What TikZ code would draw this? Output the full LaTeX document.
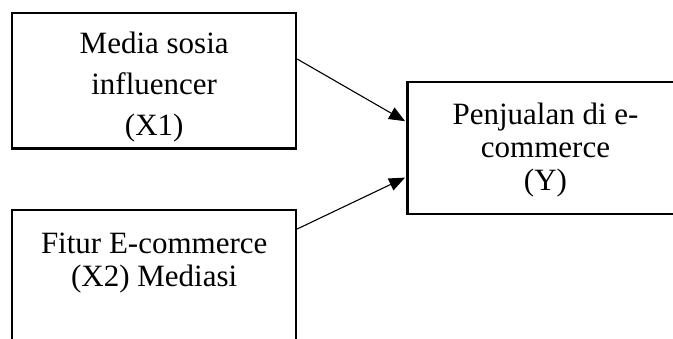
\documentclass[tikz,border=0pt]{standalone}
\usepackage{fontspec}
\setmainfont{Liberation Serif}
\usetikzlibrary{arrows.meta}
\tikzset{
  boxnode/.style={draw=black, line width=2.2pt, inner sep=0pt, align=center},
  conn/.style={draw=black, line width=1.1pt, -{Triangle[length=16pt,width=13pt]}, shorten >=1.5pt}
}
\begin{document}
\begin{tikzpicture}[x=1pt, y=-1pt]
\useasboundingbox (0,0) rectangle (673,338);
\clip (0,0) rectangle (673,338);
\fill[white] (0,0) rectangle (673,338);
\node[boxnode, minimum width=283.7pt, minimum height=135.8pt, text height=122.3pt, text depth=13.5pt,
      font=\fontsize{31}{40.7}\selectfont] (x1) at (154.2,80.6)
  {Media sosia\\influencer\\(X1)};
\node[boxnode, minimum width=283.7pt, minimum height=150pt, text height=76.7pt, text depth=73.3pt,
      font=\fontsize{31}{33.3}\selectfont] (x2) at (154.2,285)
  {Fitur E-commerce\\(X2) Mediasi};
\node[boxnode, minimum width=276pt, minimum height=131.7pt, text height=107.7pt, text depth=24pt,
      font=\fontsize{31}{33}\selectfont] (y) at (545.5,148.15)
  {Penjualan di e-\\commerce\\(Y)};
\draw[conn] ([yshift=21.6pt]x1.east) -- ([yshift=26.2pt]y.west);
\draw[conn] ([yshift=56pt]x2.east) -- ([yshift=-28.8pt]y.west);
\end{tikzpicture}
\end{document}
